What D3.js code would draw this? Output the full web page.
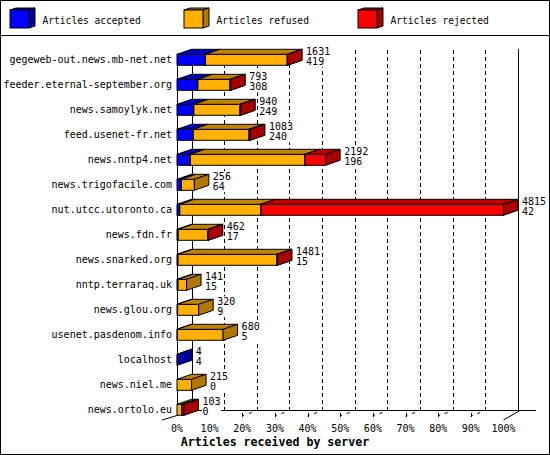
<!DOCTYPE html>
<html>
<head>
<meta charset="utf-8">
<script src="https://cdn.jsdelivr.net/npm/d3@7"></script>
<style>
  body { margin: 0; background: #fff; }
  text { font-family: "DejaVu Sans Mono", monospace; }
</style>
</head>
<body>
<svg id="chart"></svg>
<script>
const width = 550;
const height = 455;

// data
const servers = [
  "gegeweb-out.news.mb-net.net", "feeder.eternal-september.org", "news.samoylyk.net",
  "feed.usenet-fr.net", "news.nntp4.net", "news.trigofacile.com", "nut.utcc.utoronto.ca",
  "news.fdn.fr", "news.snarked.org", "nntp.terraraq.uk", "news.glou.org",
  "usenet.pasdenom.info", "localhost", "news.niel.me", "news.ortolo.eu"
];
const totalLabels = [1631, 793, 940, 1083, 2192, 256, 4815, 462, 1481, 141, 320, 680, 4, 215, 103];
const accepted = [419, 308, 249, 240, 196, 64, 42, 17, 15, 15, 9, 5, 4, 0, 0];
const refused = [1207, 475, 681, 823, 1691, 192, 1196, 440, 1461, 126, 311, 675, 0, 215, 74];
const rejected = [5, 10, 10, 20, 305, 0, 3577, 5, 5, 0, 0, 0, 0, 0, 29];

const seriesNames = ["Articles accepted", "Articles refused", "Articles rejected"];
const seriesValues = [accepted, refused, rejected];
const colors = [
  { front: "#0000ff", top: "#0000c0", side: "#0000a0" },
  { front: "#ffb000", top: "#c08400", side: "#b07800" },
  { front: "#ff0000", top: "#c00000", side: "#a80000" }
];

const depthX = 14.5, depthY = 5;
const barH = 11;

const svg = d3.select("#chart")
  .attr("width", width)
  .attr("height", height);

svg.append("rect")
  .attr("x", 0.5).attr("y", 0.5)
  .attr("width", width - 1).attr("height", height - 1)
  .attr("fill", "#fff").attr("stroke", "#000");

// legend
const legend = svg.append("g");
legend.append("line")
  .attr("x1", 0).attr("x2", width)
  .attr("y1", 35.5).attr("y2", 35.5)
  .attr("stroke", "#000");

seriesNames.forEach((name, i) => {
  const lx = 10 + i * 174;
  const g = legend.append("g");
  const fx = lx, fy = 10, fw = 19, fh = 18, dx = 6, dy = 2;
  g.append("polygon")
    .attr("points", [[fx, fy], [fx + dx, fy - dy], [fx + fw + dx, fy - dy], [fx + fw, fy]].join(" "))
    .attr("fill", colors[i].top).attr("stroke", "#000");
  g.append("polygon")
    .attr("points", [[fx + fw, fy], [fx + fw + dx, fy - dy], [fx + fw + dx, fy + fh - dy], [fx + fw, fy + fh]].join(" "))
    .attr("fill", colors[i].side).attr("stroke", "#000");
  g.append("rect")
    .attr("x", fx).attr("y", fy).attr("width", fw).attr("height", fh)
    .attr("fill", colors[i].front).attr("stroke", "#000");
  g.append("text")
    .attr("x", lx + 32.5).attr("y", 23.5)
    .attr("font-size", "9.6px")
    .text(name);
});

// scales
const maxTotal = d3.max(totalLabels);
const x = d3.scaleLinear().domain([0, 1]).range([177, 503.5]);
const y = d3.scaleBand().domain(servers).range([47.3, 422.3]).padding(0);
const pct = d3.format(".0%");
const ticks = x.ticks(10);

const plot = svg.append("g");

// back wall and gridlines
plot.selectAll(".grid")
  .data(ticks.filter(t => t > 0 && t < 1))
  .join("line")
  .attr("x1", d => Math.round(x(d) + depthX) + 0.5)
  .attr("x2", d => Math.round(x(d) + depthX) + 0.5)
  .attr("y1", 50).attr("y2", 410)
  .attr("stroke", "#000")
  .attr("stroke-dasharray", "4,3");

plot.append("line")
  .attr("x1", Math.round(x(0) + depthX) + 0.5).attr("x2", Math.round(x(0) + depthX) + 0.5)
  .attr("y1", 49).attr("y2", 411)
  .attr("stroke", "#000");
plot.append("line")
  .attr("x1", Math.round(x(1) + depthX) + 0.5).attr("x2", Math.round(x(1) + depthX) + 0.5)
  .attr("y1", 49).attr("y2", 411)
  .attr("stroke", "#000");

// floor
plot.append("line")
  .attr("x1", x(0) + depthX).attr("x2", 536)
  .attr("y1", 410.5).attr("y2", 410.5)
  .attr("stroke", "#000");
plot.append("line")
  .attr("x1", 162).attr("y1", 420)
  .attr("x2", x(0)).attr("y2", 415.5)
  .attr("stroke", "#000");
plot.append("line")
  .attr("x1", x(1)).attr("y1", 420)
  .attr("x2", x(1) + depthX + 2).attr("y2", 410.5)
  .attr("stroke", "#000");

plot.selectAll(".floorTick")
  .data(ticks.filter(t => t > 0 && t < 1))
  .join("line")
  .attr("x1", d => x(d)).attr("y1", 416)
  .attr("x2", d => x(d) + depthX).attr("y2", 410.5)
  .attr("stroke", "#000")
  .attr("stroke-dasharray", "2,5,3,10");

plot.selectAll(".tickMark")
  .data(ticks.filter(t => t > 0 && t < 1))
  .join("line")
  .attr("x1", d => Math.round(x(d)) + 0.5).attr("x2", d => Math.round(x(d)) + 0.5)
  .attr("y1", 413).attr("y2", 417)
  .attr("stroke", "#000");

// front left axis
plot.append("line")
  .attr("x1", Math.round(x(0)) + 0.5).attr("x2", Math.round(x(0)) + 0.5)
  .attr("y1", 54).attr("y2", 416)
  .attr("stroke", "#000");

// tick labels
plot.selectAll(".tickLabel")
  .data(ticks)
  .join("text")
  .attr("x", d => x(d))
  .attr("y", 432)
  .attr("text-anchor", "middle")
  .attr("font-size", "10px")
  .text(d => pct(d));

svg.append("text")
  .attr("x", width / 2)
  .attr("y", 446)
  .attr("text-anchor", "middle")
  .attr("font-size", "11.6px")
  .attr("font-weight", "bold")
  .text("Articles received by server");

// category labels
plot.selectAll(".cat")
  .data(servers)
  .join("text")
  .attr("x", 172)
  .attr("y", d => y(d) + y.bandwidth() / 2 + 3)
  .attr("text-anchor", "end")
  .attr("font-size", "10px")
  .text(d => d);

// stacked 3d bars
servers.forEach((s, i) => {
  const yc = y(s) + y.bandwidth() / 2;
  const yt = yc - barH / 2, yb = yc + barH / 2;
  let cum = 0;
  const g = plot.append("g");
  seriesValues.forEach((vals, k) => {
    const v = vals[i];
    if (!v) return;
    const x0 = x(cum / maxTotal);
    cum += v;
    const x1 = x(cum / maxTotal);
    g.append("rect")
      .attr("x", x0).attr("y", yt)
      .attr("width", x1 - x0).attr("height", barH)
      .attr("fill", colors[k].front).attr("stroke", "#000");
    g.append("polygon")
      .attr("points", [[x0, yt], [x0 + depthX, yt - depthY], [x1 + depthX, yt - depthY], [x1, yt]].join(" "))
      .attr("fill", colors[k].top).attr("stroke", "#000");
    g.append("polygon")
      .attr("points", [[x1, yt], [x1 + depthX, yt - depthY], [x1 + depthX, yb - depthY], [x1, yb]].join(" "))
      .attr("fill", colors[k].side).attr("stroke", "#000");
  });

  // value labels sit on an opaque box over the gridlines
  const lx = x(cum / maxTotal) + depthX + 4;
  const a = String(totalLabels[i]), b = String(accepted[i]);
  g.append("rect")
    .attr("x", lx - 0.5).attr("y", yc - 13.5)
    .attr("width", Math.max(a.length, b.length) * 6 + 1)
    .attr("height", 21)
    .attr("fill", "#fff");
  g.append("text")
    .attr("x", lx).attr("y", yc - 5)
    .attr("font-size", "10px")
    .text(a);
  g.append("text")
    .attr("x", lx).attr("y", yc + 5.5)
    .attr("font-size", "10px")
    .text(b);
});
</script>
</body>
</html>
